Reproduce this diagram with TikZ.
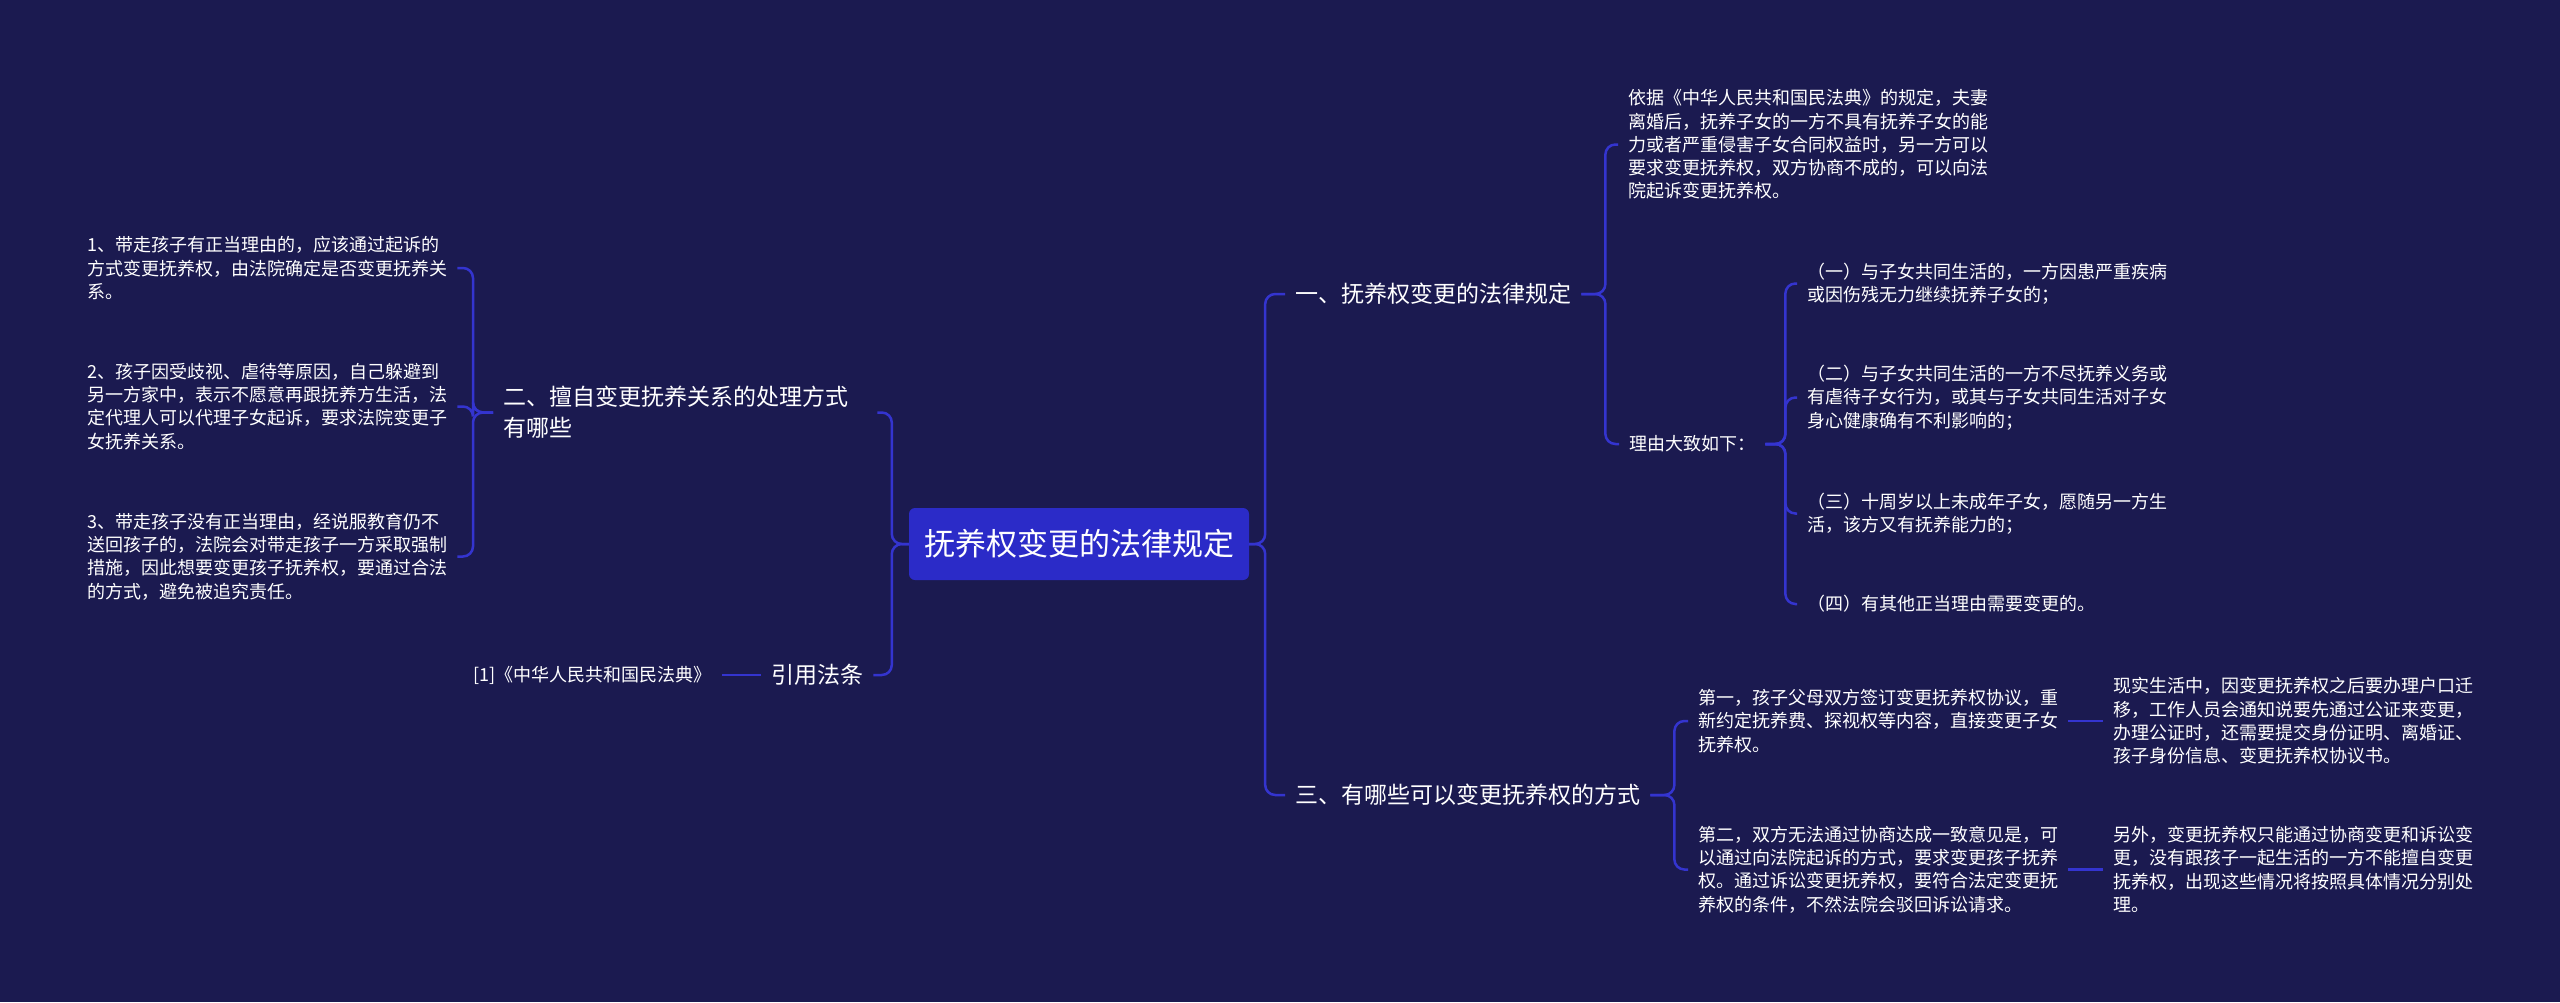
\documentclass[tikz,border=0pt]{standalone}
\usepackage{fontspec}
\setmainfont{Noto Sans CJK SC}
\definecolor{bgnavy}{HTML}{1B1A50}
\definecolor{linkblue}{HTML}{3434CF}
\definecolor{rootblue}{HTML}{2B2BC8}

\begin{document}
\begin{tikzpicture}[x=1pt, y=-1pt,
    branch/.style = {draw=linkblue, line width=2.5pt, rounded corners=10pt},
    rootbox/.style = {fill=rootblue, rounded corners=6pt, text=white, inner sep=0pt,
        minimum width=340pt, minimum height=72pt, font=\fontsize{31}{36}\selectfont},
    topic/.style = {text=white, inner xsep=10pt, inner ysep=0pt, align=left,
        font=\fontsize{23}{31}\selectfont},
    leaf/.style = {text=white, inner xsep=10pt, inner ysep=0pt, align=left,
        font=\fontsize{18}{23.3}\selectfont}]
    \fill[bgnavy] (0,0) rectangle (2560,1002);

    \node[rootbox] (root) at (1079,544) {抚养权变更的法律规定};

    \node[topic, anchor=west, text width=364pt] (way) at (493,412.5) {二、擅自变更抚养关系的处理方式\\有哪些};
    \node[topic, anchor=west] (cite) at (761,675) {引用法条};
    \node[leaf, anchor=east] (code) at (722,675) {[1]《中华人民共和国民法典》};

    \node[leaf, anchor=west] (way1) at (77,268) {1、带走孩子有正当理由的，应该通过起诉的\\方式变更抚养权，由法院确定是否变更抚养关\\系。};
    \node[leaf, anchor=west] (way2) at (77,406.5) {2、孩子因受歧视、虐待等原因，自己躲避到\\另一方家中，表示不愿意再跟抚养方生活，法\\定代理人可以代理子女起诉，要求法院变更子\\女抚养关系。};
    \node[leaf, anchor=west] (way3) at (77,556.5) {3、带走孩子没有正当理由，经说服教育仍不\\送回孩子的，法院会对带走孩子一方采取强制\\措施，因此想要变更孩子抚养权，要通过合法\\的方式，避免被追究责任。};

    \node[topic, anchor=west] (law) at (1285,294) {一、抚养权变更的法律规定};
    \node[topic, anchor=west] (mode) at (1285,795) {三、有哪些可以变更抚养权的方式};

    \node[leaf, anchor=west] (basis) at (1618,144.5) {依据《中华人民共和国民法典》的规定，夫妻\\离婚后，抚养子女的一方不具有抚养子女的能\\力或者严重侵害子女合同权益时，另一方可以\\要求变更抚养权，双方协商不成的，可以向法\\院起诉变更抚养权。};
    \node[leaf, anchor=west] (reason) at (1619,444) {理由大致如下：};

    \node[leaf, anchor=west] (rsn1) at (1797,283.5) {（一）与子女共同生活的，一方因患严重疾病\\或因伤残无力继续抚养子女的；};
    \node[leaf, anchor=west] (rsn2) at (1797,397.5) {（二）与子女共同生活的一方不尽抚养义务或\\有虐待子女行为，或其与子女共同生活对子女\\身心健康确有不利影响的；};
    \node[leaf, anchor=west] (rsn3) at (1797,513.5) {（三）十周岁以上未成年子女，愿随另一方生\\活，该方又有抚养能力的；};
    \node[leaf, anchor=west] (rsn4) at (1797,604) {（四）有其他正当理由需要变更的。};

    \node[leaf, anchor=west] (first) at (1688,721) {第一，孩子父母双方签订变更抚养权协议，重\\新约定抚养费、探视权等内容，直接变更子女\\抚养权。};
    \node[leaf, anchor=west] (second) at (1688,869.5) {第二，双方无法通过协商达成一致意见是，可\\以通过向法院起诉的方式，要求变更孩子抚养\\权。通过诉讼变更抚养权，要符合法定变更抚\\养权的条件，不然法院会驳回诉讼请求。};
    \node[leaf, anchor=west] (note1) at (2103,721) {现实生活中，因变更抚养权之后要办理户口迁\\移，工作人员会通知说要先通过公证来变更，\\办理公证时，还需要提交身份证明、离婚证、\\孩子身份信息、变更抚养权协议书。};
    \node[leaf, anchor=west] (note2) at (2103,869.5) {另外，变更抚养权只能通过协商变更和诉讼变\\更，没有跟孩子一起生活的一方不能擅自变更\\抚养权，出现这些情况将按照具体情况分别处\\理。};

    \draw[branch] (root.west) -- ++(-17,0) |- (way.east);
    \draw[branch] (root.west) -- ++(-17,0) |- (cite.east);
    \draw[branch] (cite.west) -- (code.east);
    \draw[branch] (way.west) -- ++(-20,0) |- (way1.east);
    \draw[branch] (way.west) -- ++(-20,0) |- (way2.east);
    \draw[branch] (way.west) -- ++(-20,0) |- (way3.east);

    \draw[branch] (root.east) -- ++(16,0) |- (law.west);
    \draw[branch] (root.east) -- ++(16,0) |- (mode.west);
    \draw[branch] (law.east) -- ++(24,0) |- (basis.west);
    \draw[branch] (law.east) -- ++(24,0) |- (reason.west);
    \draw[branch] (reason.east) -- ++(20,0) |- (rsn1.west);
    \draw[branch] (reason.east) -- ++(20,0) |- (rsn2.west);
    \draw[branch] (reason.east) -- ++(20,0) |- (rsn3.west);
    \draw[branch] (reason.east) -- ++(20,0) |- (rsn4.west);
    \draw[branch] (mode.east) -- ++(24,0) |- (first.west);
    \draw[branch] (mode.east) -- ++(24,0) |- (second.west);
    \draw[branch] (first.east) -- (note1.west);
    \draw[branch] (second.east) -- (note2.west);
\end{tikzpicture}
\end{document}
